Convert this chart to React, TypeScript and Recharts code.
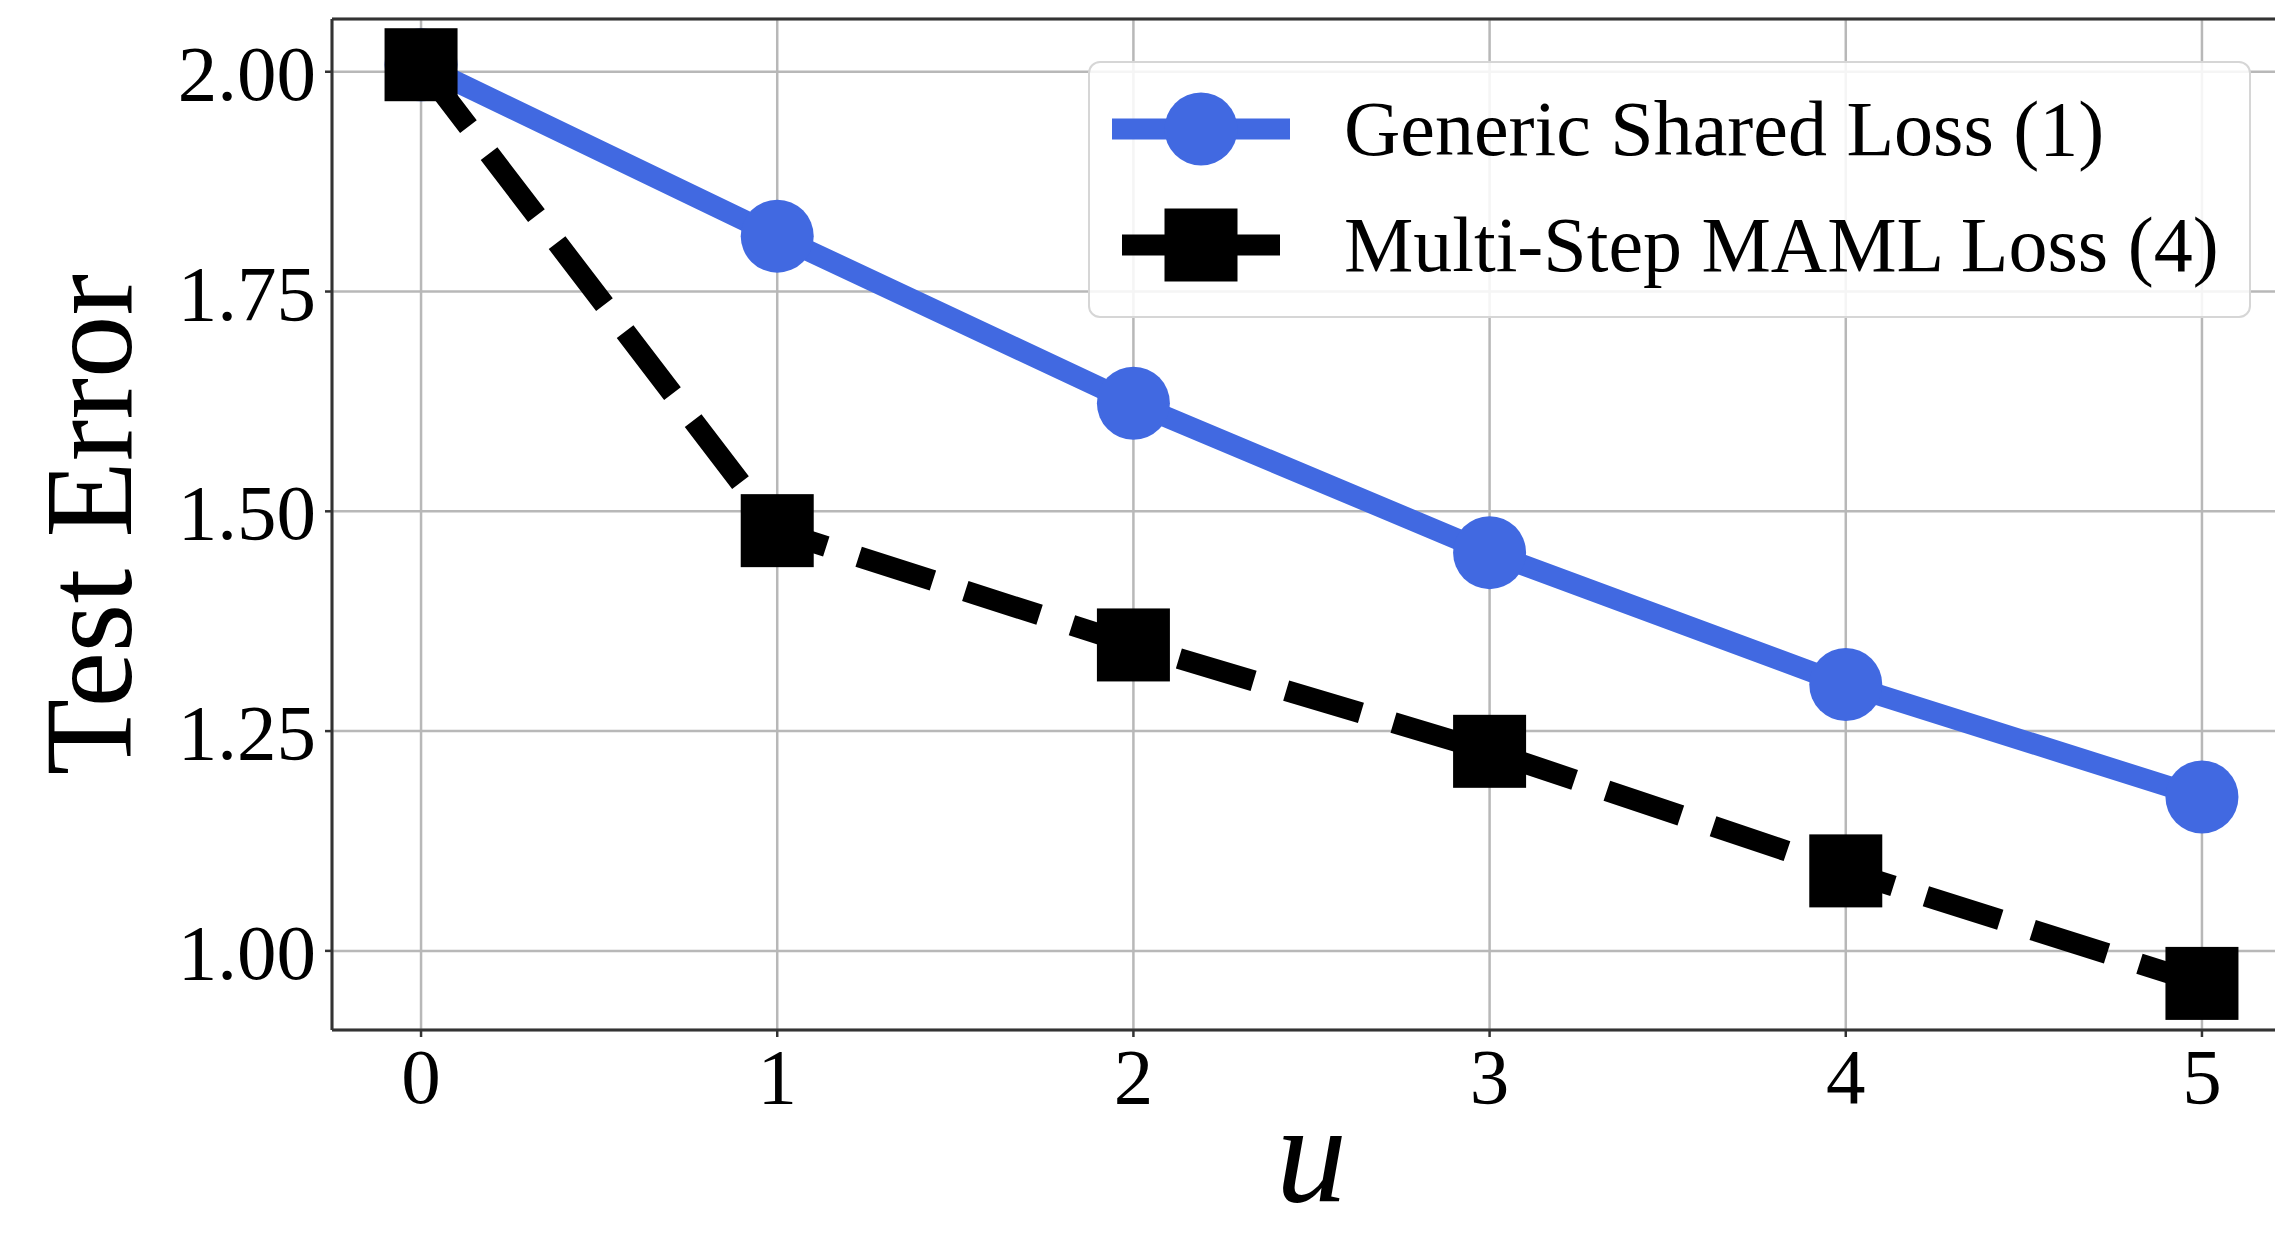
import { LineChart, Line, XAxis, YAxis, CartesianGrid, Legend, ReferenceLine } from "recharts";

const steps = [0, 1, 2, 3, 4, 5];
const genericLoss = [2.008, 1.813, 1.623, 1.453, 1.303, 1.175];
const mamlLoss = [2.008, 1.478, 1.348, 1.227, 1.091, 0.963];
const xTicks = [0, 1, 2, 3, 4, 5];
const yTicks = [1.0, 1.25, 1.5, 1.75, 2.0];
const seriesNames = ["Generic Shared Loss (1)", "Multi-Step MAML Loss (4)"];

const BLUE = "#4169e1";
const FONT = "'Liberation Serif', 'DejaVu Serif', serif";
const LW = 21;

const data = steps.map((u, i) => ({ u, generic: genericLoss[i], maml: mamlLoss[i] }));

const CircleDot = (props: any) => {
  const { cx, cy, index } = props;
  if (cx == null || cy == null) return null;
  return <circle key={`c-${index}`} cx={cx} cy={cy} r={36.5} fill={BLUE} />;
};

const SquareDot = (props: any) => {
  const { cx, cy, index } = props;
  if (cx == null || cy == null) return null;
  return <rect key={`s-${index}`} x={cx - 36.5} y={cy - 36.5} width={73} height={73} fill="#000" />;
};

function LegendBox() {
  const row = (top: number, kind: "circle" | "square", label: string) => (
    <div style={{ position: "absolute", left: 0, top: top - 40, height: 80, display: "flex", alignItems: "center" }}>
      <svg width={200} height={80} style={{ marginLeft: 20 }}>
        {kind === "circle" ? (
          <>
            <line x1={2} x2={180} y1={40} y2={40} stroke={BLUE} strokeWidth={LW} />
            <circle cx={91} cy={40} r={36.5} fill={BLUE} />
          </>
        ) : (
          <>
            <line x1={12} x2={170} y1={40} y2={40} stroke="#000" strokeWidth={LW} />
            <rect x={54.5} y={3.5} width={73} height={73} fill="#000" />
          </>
        )}
      </svg>
      <span style={{ marginLeft: 34, whiteSpace: "nowrap", lineHeight: "80px" }}>{label}</span>
    </div>
  );
  return (
    <div
      style={{
        position: "relative",
        width: 1163,
        height: 257,
        boxSizing: "border-box",
        border: "2px solid #d6d6d6",
        borderRadius: 12,
        background: "rgba(255,255,255,0.85)",
        fontFamily: FONT,
        fontSize: 78,
        color: "#000",
      }}
    >
      {row(66, "circle", seriesNames[0])}
      {row(182, "square", seriesNames[1])}
    </div>
  );
}

const YLabel = (props: any) => {
  const { viewBox } = props;
  const cy = viewBox.y + viewBox.height / 2;
  const x = 131;
  return (
    <text x={x} y={cy} transform={`rotate(-90, ${x}, ${cy})`} textAnchor="middle" fontFamily={FONT} fontSize={125} fill="#000">
      Test Error
    </text>
  );
};

const XLabel = (props: any) => {
  const { viewBox } = props;
  const cx = viewBox.x + viewBox.width / 2;
  return (
    <text x={cx} y={1201} textAnchor="middle" fontFamily={FONT} fontStyle="italic" fontSize={142} fill="#000">
      u
    </text>
  );
};

export default function App() {
  return (
    <div style={{ position: "absolute", left: 0, top: 0, width: 2275, height: 1234, overflow: "hidden", background: "#fff" }}>
      <LineChart width={2310} height={1234} data={data} margin={{ top: 19, right: 19, bottom: 0, left: 0 }}>
        <CartesianGrid stroke="#b8b8b8" strokeWidth={2.5} />
        <XAxis
          dataKey="u"
          type="number"
          domain={[-0.25, 5.25]}
          ticks={xTicks}
          allowDataOverflow
          height={204}
          axisLine={{ stroke: "#333", strokeWidth: 3 }}
          tickLine={{ stroke: "#333", strokeWidth: 2.5 }}
          tickSize={7}
          tickMargin={10}
          tick={{ fontFamily: FONT, fontSize: 79, fill: "#000" }}
          label={<XLabel />}
        />
        <YAxis
          type="number"
          domain={[0.91, 2.06]}
          ticks={yTicks}
          allowDataOverflow
          width={332}
          axisLine={{ stroke: "#333", strokeWidth: 3 }}
          tickLine={{ stroke: "#333", strokeWidth: 2.5 }}
          tickSize={7}
          tickMargin={9}
          tick={{ fontFamily: FONT, fontSize: 79, fill: "#000" }}
          tickFormatter={(v: number) => v.toFixed(2)}
          label={<YLabel />}
        />
        <ReferenceLine y={2.06} stroke="#333" strokeWidth={3} />
        <Line
          type="linear"
          dataKey="generic"
          stroke={BLUE}
          strokeWidth={LW}
          dot={CircleDot}
          activeDot={false}
          isAnimationActive={false}
        />
        <Line
          type="linear"
          dataKey="maml"
          stroke="#000"
          strokeWidth={LW}
          strokeDasharray="78 34"
          dot={SquareDot}
          activeDot={false}
          isAnimationActive={false}
        />
        <Legend
          layout="vertical"
          align="center"
          verticalAlign="middle"
          content={() => <LegendBox />}
          wrapperStyle={{ left: 1088, top: 61, width: 1163, height: 257 }}
        />
      </LineChart>
    </div>
  );
}
